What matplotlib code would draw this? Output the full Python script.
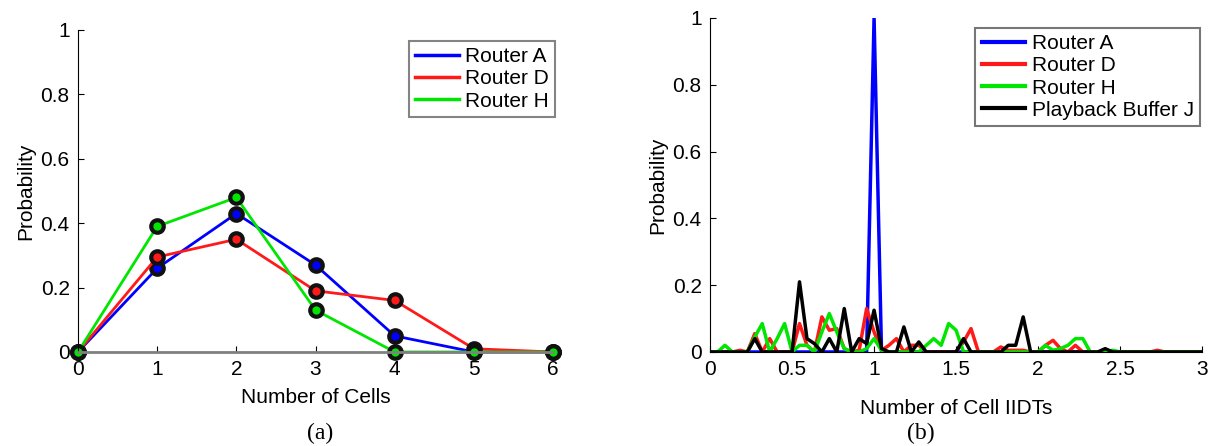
import numpy as np
import matplotlib.pyplot as plt

plt.rcParams['font.family'] = ['Liberation Sans', 'DejaVu Sans']

# (a) number of cells
cells = [0, 1, 2, 3, 4, 5, 6]
cells_a = [0, 0.26, 0.43, 0.27, 0.05, 0.0, 0]
cells_d = [0, 0.295, 0.35, 0.19, 0.16, 0.01, 0]
cells_h = [0, 0.39, 0.48, 0.13, 0.0, 0.0, 0]

# (b) cell IIDTs, bins of width 1/22 from 0 to 3
iidt = np.arange(67) / 22
iidt_a = [0, 0, 0, 0, 0, 0, 0, 0, 0, 0, 0,
          0, 0, 0, 0, 0, 0, 0, 0, 0, 0, 0,
          1.0, 0, 0, 0, 0, 0, 0, 0, 0, 0, 0,
          0, 0, 0, 0, 0, 0, 0, 0, 0, 0, 0,
          0, 0, 0, 0, 0, 0, 0, 0, 0, 0, 0,
          0, 0, 0, 0, 0, 0, 0, 0, 0, 0, 0, 0]
iidt_d = [0, 0, 0, 0, 0.005, 0, 0.055, 0, 0.04, 0, 0,
          0, 0.085, 0.02, 0, 0.105, 0.065, 0.07, 0.01, 0, 0.005, 0.13,
          0.06, 0.005, 0.02, 0.04, 0, 0.02, 0.02, 0, 0, 0, 0,
          0, 0.03, 0.07, 0, 0, 0, 0.015, 0.005, 0.005, 0.005, 0,
          0, 0.02, 0.035, 0.01, 0, 0.02, 0, 0, 0, 0, 0,
          0, 0, 0, 0, 0, 0.005, 0, 0, 0, 0, 0, 0]
iidt_h = [0, 0, 0.02, 0, 0, 0, 0.045, 0.085, 0, 0.04, 0.085,
          0, 0.02, 0.02, 0, 0.06, 0.115, 0.06, 0.01, 0, 0, 0.01,
          0.04, 0.005, 0, 0, 0, 0, 0, 0.02, 0.04, 0.02, 0.085,
          0.065, 0, 0, 0, 0, 0, 0, 0, 0, 0, 0,
          0, 0.02, 0.005, 0.01, 0.02, 0.04, 0.04, 0, 0, 0, 0.005,
          0, 0, 0, 0, 0, 0, 0, 0, 0, 0, 0, 0]
iidt_j = [0, 0, 0, 0, 0, 0, 0.04, 0, 0, 0, 0,
          0, 0.21, 0.04, 0.025, 0, 0.04, 0, 0.13, 0, 0.04, 0.025,
          0.125, 0.01, 0, 0, 0.075, 0, 0.03, 0, 0, 0, 0,
          0, 0.04, 0, 0, 0, 0, 0, 0.02, 0.02, 0.105, 0,
          0, 0, 0, 0, 0, 0, 0, 0, 0, 0.01, 0,
          0, 0, 0, 0, 0, 0, 0, 0, 0, 0, 0, 0]

blue = '#0000ff'
red = '#ff1a1a'
green = '#00e600'
fs = 15

fig = plt.figure(figsize=(12.15, 4.46), dpi=100)


def style_axes(ax):
    ax.spines['top'].set_visible(False)
    ax.spines['right'].set_visible(False)
    ax.tick_params(direction='in', length=4, labelsize=fs, pad=6)
    ax.set_ylim(0, 1)
    ax.set_yticks([0, 0.2, 0.4, 0.6, 0.8, 1])
    ax.set_yticklabels(['0', '0.2', '0.4', '0.6', '0.8', '1'])
    ax.set_ylabel('Probability', fontsize=fs)


# (a)
ax1 = fig.add_axes([0.0642, 0.2108, 0.391, 0.722])
for y, c, lab in [(cells_a, blue, 'Router A'), (cells_d, red, 'Router D'), (cells_h, green, 'Router H')]:
    ax1.plot(cells, y, color=c, lw=2, label=lab, marker='o', ms=9, mfc=c, mec='#111111', mew=3,
             clip_on=False)
ax1.set_xlim(0, 6)
style_axes(ax1)
ax1.set_xticks(cells)
ax1.spines['bottom'].set_color('#808080')
ax1.spines['bottom'].set_linewidth(2)
ax1.set_xlabel('Number of Cells', fontsize=fs, labelpad=6)
leg1 = ax1.legend(loc='upper right', bbox_to_anchor=(0.4568, 0.908), bbox_transform=fig.transFigure,
                  fontsize=fs, fancybox=False, borderpad=0.3, labelspacing=0.15, handlelength=2.1,
                  handletextpad=0.3, borderaxespad=0)
leg1.get_frame().set_edgecolor('#666666')
leg1.get_frame().set_linewidth(1.5)
for h in leg1.get_lines():
    h.set_marker('')
    h.set_linewidth(2.5)

# (b)
ax2 = fig.add_axes([0.5844, 0.2108, 0.405, 0.749])
ax2.plot(iidt, iidt_a, color=blue, lw=2.5, label='Router A')
ax2.plot(iidt, iidt_d, color=red, lw=2.5, label='Router D')
ax2.plot(iidt, iidt_h, color=green, lw=2.5, label='Router H')
ax2.plot(iidt, iidt_j, color='k', lw=2.5, label='Playback Buffer J')
ax2.set_xlim(0, 3)
style_axes(ax2)
ax2.set_xticks([0, 0.5, 1, 1.5, 2, 2.5, 3])
ax2.set_xticklabels(['0', '0.5', '1', '1.5', '2', '2.5', '3'])
ax2.set_xlabel('Number of Cell IIDTs', fontsize=fs, labelpad=14)
leg2 = ax2.legend(loc='upper right', bbox_to_anchor=(0.9877, 0.937), bbox_transform=fig.transFigure,
                  fontsize=fs, fancybox=False, borderpad=0.3, labelspacing=0.15, handlelength=2.1,
                  handletextpad=0.3, borderaxespad=0)
leg2.get_frame().set_edgecolor('#555555')
leg2.get_frame().set_linewidth(1.5)
for h in leg2.get_lines():
    h.set_linewidth(3)

fig.text(320 / 1215, 1 - 433 / 446, '(a)', family='Liberation Serif', fontsize=17, ha='center', va='center')
fig.text(921 / 1215, 1 - 433 / 446, '(b)', family='Liberation Serif', fontsize=17, ha='center', va='center')

fig.savefig('out.png', dpi=100)
